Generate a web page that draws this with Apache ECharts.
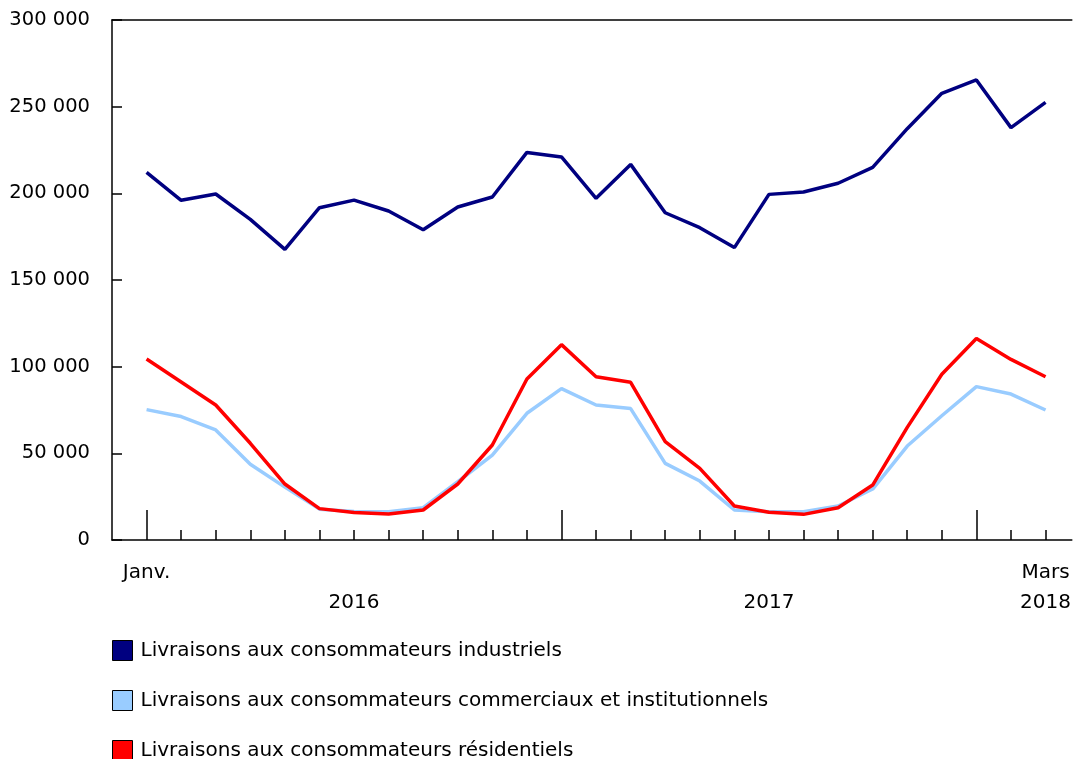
<!DOCTYPE html>
<html>
<head>
<meta charset="utf-8">
<script src="https://cdn.jsdelivr.net/npm/echarts@6/dist/echarts.min.js"></script>
<style>html,body{margin:0;padding:0;background:#fff;}#c{width:1074px;height:759px;}</style>
</head>
<body>
<div id="c"></div>
<script>
const months = ['Janv. 2016','Févr. 2016','Mars 2016','Avr. 2016','Mai 2016','Juin 2016','Juil. 2016','Août 2016','Sept. 2016','Oct. 2016','Nov. 2016','Déc. 2016',
  'Janv. 2017','Févr. 2017','Mars 2017','Avr. 2017','Mai 2017','Juin 2017','Juil. 2017','Août 2017','Sept. 2017','Oct. 2017','Nov. 2017','Déc. 2017',
  'Janv. 2018','Févr. 2018','Mars 2018'];
const seriesNames = ['Livraisons aux consommateurs industriels','Livraisons aux consommateurs commerciaux et institutionnels','Livraisons aux consommateurs résidentiels'];
const industriels = [212100,196000,199600,185000,167700,191700,196100,189800,179000,192100,197900,223600,
  221000,197100,216700,188800,180200,168700,199400,200800,205800,215000,237300,257700,265400,237900,252500];
const commerciaux = [75200,71200,63500,43700,30500,17800,16500,16300,18600,33600,49000,73100,
  87300,77900,75800,44200,34000,17300,16300,16300,19600,29400,54200,71700,88500,84200,75000];
const residentiels = [104400,91200,77900,55800,32300,18100,15800,15000,17300,32300,54800,92900,
  112700,94200,91000,56700,41300,19600,16000,14800,18600,31700,65000,95600,116300,104200,94200];
const xLabels = {0:'Janv.\n ', 6:' \n2016', 18:' \n2017', 26:'Mars\n2018'};
const yTicks = {min:0, max:300000, interval:50000};
const colors = ['#000080','#99ccff','#ff0000'];

const font = 'DejaVu Sans';
const fs = 20;
const allTicks = months.map((m,i)=>i);
const chart = echarts.init(document.getElementById('c'), null, {renderer:'canvas'});
const toPairs = arr => arr.map((v,i)=>[i,v]);
const legendTops = [640, 690, 740];
chart.setOption({
  animation:false,
  textStyle:{fontFamily:font, color:'#000'},
  grid:{left:112, top:20, right:1, bottom:219, containLabel:false},
  legend:seriesNames.map((n,i)=>({
    orient:'vertical', left:112, top:legendTops[i], padding:0, itemWidth:20, itemHeight:20, icon:'rect',
    textStyle:{fontFamily:font, fontSize:fs, color:'#000', padding:[0,0,0,3]},
    itemStyle:{borderColor:'#000', borderWidth:1},
    data:[n]
  })),
  xAxis:[
    {type:'value', min:-1, max:26.76, position:'bottom',
     axisLine:{show:true, onZero:false, lineStyle:{color:'#000', width:1.5}},
     axisTick:{show:true, inside:true, length:10, customValues:allTicks, lineStyle:{color:'#000', width:1.5}},
     axisLabel:{show:true, customValues:Object.keys(xLabels).map(Number), formatter:v=>xLabels[v]||'', margin:18, lineHeight:30, fontSize:fs, fontFamily:font, color:'#000'},
     splitLine:{show:false}},
    {type:'value', min:-1, max:26.76, position:'bottom',
     axisLine:{show:false, onZero:false},
     axisTick:{show:true, inside:true, length:30, customValues:[0,12,24], lineStyle:{color:'#000', width:1.5}},
     axisLabel:{show:false}, splitLine:{show:false}},
    {type:'value', min:-1, max:26.76, position:'top',
     axisLine:{show:true, onZero:false, lineStyle:{color:'#000', width:1.5}},
     axisTick:{show:false}, axisLabel:{show:false}, splitLine:{show:false}}
  ],
  yAxis:{type:'value', min:yTicks.min, max:yTicks.max, interval:yTicks.interval, position:'left',
    axisLine:{show:true, onZero:false, lineStyle:{color:'#000', width:1.5}},
    axisTick:{show:true, inside:true, length:10, lineStyle:{color:'#000', width:1.5}},
    axisLabel:{fontSize:19.5, fontFamily:font, color:'#000', margin:22, padding:[6,0,0,0],
      formatter:v=>String(v).replace(/\B(?=(\d{3})+(?!\d))/g,' ')},
    splitLine:{show:false}},
  series:[
    {name:seriesNames[0], type:'line', data:toPairs(industriels), showSymbol:false, symbol:'none', color:colors[0], lineStyle:{width:3.5, color:colors[0]}, z:3},
    {name:seriesNames[1], type:'line', data:toPairs(commerciaux), showSymbol:false, symbol:'none', color:colors[1], lineStyle:{width:3.5, color:colors[1]}, z:2},
    {name:seriesNames[2], type:'line', data:toPairs(residentiels), showSymbol:false, symbol:'none', color:colors[2], lineStyle:{width:3.5, color:colors[2]}, z:4}
  ]
});
</script>
</body>
</html>
